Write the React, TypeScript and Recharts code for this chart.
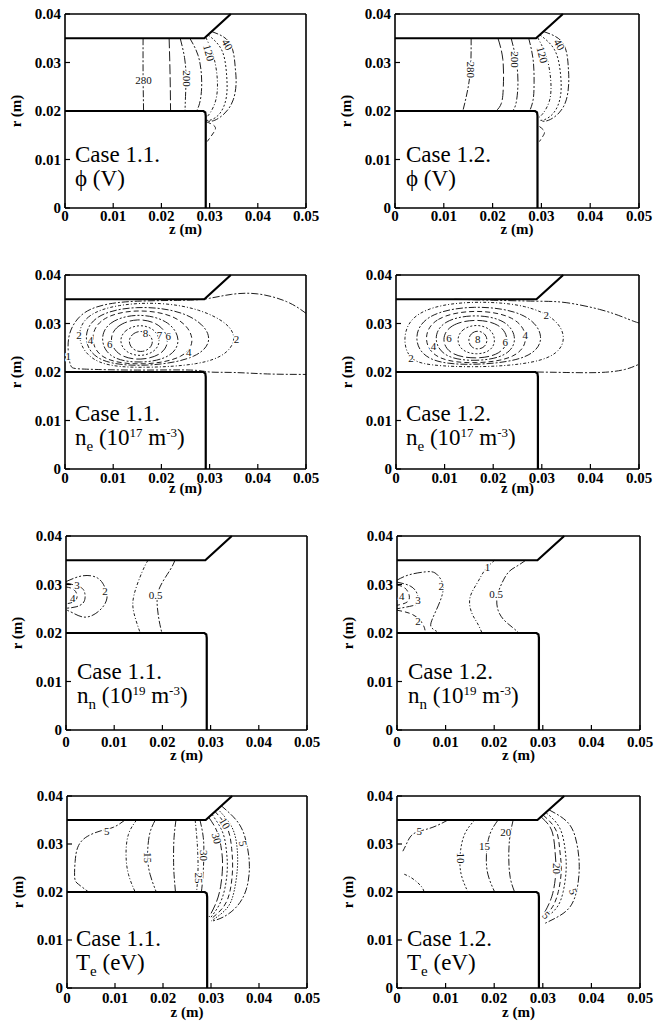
import React from "react";
import { ComposedChart, Line, Scatter, XAxis, YAxis } from "recharts";

type Pt = [number, number]; // [z (m), r (m)]

const SERIF = '"Liberation Serif", "DejaVu Serif", "Times New Roman", serif';

// ---- geometry of the electrodes ----
const WALL_TOP: Pt[] = [[0, 0.035], [0.0289, 0.035], [0.0344, 0.04]];
const ELECTRODE: Pt[] = [[0, 0.02], [0.0287, 0.02], [0.0291, 0.0197], [0.0292, 0.019], [0.0292, 0]];

const Z_TICKS = [0, 0.01, 0.02, 0.03, 0.04, 0.05];
const R_TICKS = [0, 0.01, 0.02, 0.03, 0.04];

// ---- phi, case 1.1 ----
const PHI11_280: Pt[] = [[0.0162, 0.035], [0.0162, 0.0275], [0.0163, 0.02]];
const PHI11_240: Pt[] = [[0.0216, 0.035], [0.0218, 0.0275], [0.0219, 0.02]];
const PHI11_200: Pt[] = [[0.0239, 0.035], [0.0248, 0.031], [0.0251, 0.027], [0.025, 0.023], [0.0249, 0.02]];
const PHI11_160: Pt[] = [[0.0259, 0.035], [0.0276, 0.0315], [0.0283, 0.0275], [0.0283, 0.024], [0.0279, 0.0215], [0.0273, 0.02]];
const PHI11_120: Pt[] = [[0.0292, 0.0352], [0.0308, 0.0313], [0.0316, 0.0265], [0.0313, 0.0223], [0.0301, 0.0196], [0.0292, 0.0186]];
const PHI11_80: Pt[] = [[0.0297, 0.0357], [0.0325, 0.0326], [0.0335, 0.0278], [0.0335, 0.023], [0.0322, 0.0196], [0.0304, 0.0182], [0.0293, 0.0181]];
const PHI11_40: Pt[] = [[0.0304, 0.0364], [0.0342, 0.034], [0.0353, 0.0292], [0.0355, 0.0258], [0.0349, 0.0223], [0.0332, 0.0196], [0.0311, 0.0181], [0.0297, 0.0179]];
const PHI11_SIDE: Pt[] = [[0.0293, 0.0178], [0.0311, 0.0168], [0.0308, 0.0155], [0.0295, 0.0137]];
const PHI11_TAGS = [
  { z: 0.0163, r: 0.0263, t: "280", rot: 0 },
  { z: 0.0254, r: 0.0267, t: "200", rot: 90 },
  { z: 0.0299, r: 0.032, t: "120", rot: 75 },
  { z: 0.0337, r: 0.0337, t: "40", rot: 60 },
];

// ---- phi, case 1.2 ----
const PHI12_280: Pt[] = [[0.0156, 0.035], [0.0155, 0.0292], [0.0149, 0.0244], [0.0139, 0.02]];
const PHI12_240: Pt[] = [[0.0211, 0.035], [0.0221, 0.0306], [0.0222, 0.0251], [0.0218, 0.0216], [0.0207, 0.02]];
const PHI12_200: Pt[] = [[0.0238, 0.035], [0.0248, 0.0306], [0.0252, 0.0258], [0.0248, 0.0216], [0.0241, 0.02]];
const PHI12_160: Pt[] = [[0.0274, 0.035], [0.0283, 0.0306], [0.0285, 0.0258], [0.0283, 0.0223], [0.0276, 0.02]];
const PHI12_120: Pt[] = [[0.0292, 0.0352], [0.031, 0.0313], [0.0319, 0.0265], [0.0317, 0.0223], [0.0304, 0.0196], [0.0294, 0.0186]];
const PHI12_80: Pt[] = [[0.0297, 0.0357], [0.0327, 0.0326], [0.0339, 0.0278], [0.0339, 0.023], [0.0325, 0.0196], [0.0306, 0.0182], [0.0296, 0.0181]];
const PHI12_40: Pt[] = [[0.0304, 0.0364], [0.0344, 0.034], [0.0355, 0.0292], [0.0356, 0.0258], [0.0351, 0.0223], [0.0336, 0.0196], [0.0315, 0.0181], [0.03, 0.0179]];
const PHI12_SIDE: Pt[] = [[0.0296, 0.0168], [0.0306, 0.0158], [0.0303, 0.0148], [0.0296, 0.0137]];
const PHI12_TAGS = [
  { z: 0.0155, r: 0.0285, t: "280", rot: 90 },
  { z: 0.0245, r: 0.0306, t: "200", rot: 90 },
  { z: 0.0302, r: 0.0316, t: "120", rot: 75 },
  { z: 0.0337, r: 0.0337, t: "40", rot: 60 },
];

// ---- n_e, case 1.1 ----
const NE11_1: Pt[] = [[0.05, 0.0321], [0.046, 0.0345], [0.04, 0.0361], [0.0345, 0.036], [0.03, 0.0352], [0.025, 0.0348], [0.015, 0.0346], [0.008, 0.0338], [0.0035, 0.0318], [0.001, 0.028], [0.0007, 0.024], [0.0012, 0.0213], [0.004, 0.0206], [0.015, 0.0204], [0.026, 0.0204], [0.03, 0.02], [0.035, 0.0199], [0.042, 0.0196], [0.05, 0.0195]];
const NE11_2: Pt[] = [[0.0022, 0.0268], [0.004, 0.0318], [0.011, 0.034], [0.02, 0.0344], [0.028, 0.033], [0.034, 0.03], [0.0356, 0.0268], [0.0335, 0.0235], [0.028, 0.0215], [0.017, 0.0208], [0.006, 0.0212]];
const NE11_3: Pt[] = [[0.0036, 0.0268], [0.0058, 0.0318], [0.0145, 0.0338], [0.0255, 0.0326], [0.0312, 0.0275], [0.028, 0.0228], [0.017, 0.021], [0.0065, 0.0218]];
const NE11_4: Pt[] = [[0.0051, 0.0267], [0.007, 0.0312], [0.0145, 0.0331], [0.0235, 0.0318], [0.0273, 0.027], [0.025, 0.0228], [0.0165, 0.0213], [0.0075, 0.0222]];
const NE11_5: Pt[] = [[0.0072, 0.0266], [0.0088, 0.0304], [0.0148, 0.0322], [0.0215, 0.0308], [0.0242, 0.0267], [0.0222, 0.023], [0.016, 0.0217], [0.0093, 0.0226]];
const NE11_6: Pt[] = [[0.0091, 0.0265], [0.0105, 0.0296], [0.015, 0.0312], [0.0198, 0.03], [0.0218, 0.0266], [0.0203, 0.0236], [0.0158, 0.0223], [0.011, 0.0232]];
const NE11_7: Pt[] = [[0.0112, 0.0264], [0.0123, 0.0287], [0.0155, 0.0299], [0.0186, 0.0289], [0.0199, 0.0265], [0.0188, 0.0242], [0.0157, 0.0231], [0.0125, 0.024]];
const NE11_8: Pt[] = [[0.0131, 0.0263], [0.0138, 0.0278], [0.0156, 0.0286], [0.0175, 0.0279], [0.0184, 0.0263], [0.0176, 0.0247], [0.0157, 0.024], [0.0139, 0.0247]];
const NE11_TAGS = [
  { z: 0.0029, r: 0.0276, t: "2", rot: 0 },
  { z: 0.0053, r: 0.0265, t: "4", rot: 0 },
  { z: 0.0093, r: 0.0257, t: "6", rot: 0 },
  { z: 0.0167, r: 0.028, t: "8", rot: 0 },
  { z: 0.0196, r: 0.0276, t: "7", rot: 0 },
  { z: 0.0214, r: 0.0274, t: "6", rot: 0 },
  { z: 0.0257, r: 0.0242, t: "4", rot: 0 },
  { z: 0.0356, r: 0.0268, t: "2", rot: 0 },
  { z: 0.0007, r: 0.0233, t: "1", rot: 0 },
];

// ---- n_e, case 1.2 ----
const NE12_1A: Pt[] = [[0.012, 0.035], [0.02, 0.0348], [0.029, 0.0346], [0.035, 0.0343], [0.0419, 0.0329], [0.0465, 0.0314], [0.0488, 0.0305], [0.05, 0.0301]];
const NE12_1B: Pt[] = [[0.029, 0.02], [0.035, 0.0199], [0.042, 0.0199], [0.047, 0.0205], [0.05, 0.0216]];
const NE12_2: Pt[] = [[0.0014, 0.027], [0.003, 0.0315], [0.009, 0.034], [0.018, 0.0346], [0.027, 0.0338], [0.033, 0.031], [0.035, 0.0272], [0.0335, 0.0238], [0.0285, 0.0218], [0.018, 0.0209], [0.006, 0.0213], [0.0025, 0.0228]];
const NE12_3: Pt[] = [[0.0034, 0.0269], [0.006, 0.032], [0.016, 0.0339], [0.027, 0.0324], [0.0309, 0.0272], [0.0278, 0.0226], [0.0165, 0.0213], [0.0062, 0.0219]];
const NE12_4: Pt[] = [[0.0055, 0.0268], [0.0077, 0.0313], [0.016, 0.033], [0.0248, 0.0316], [0.0275, 0.027], [0.025, 0.0228], [0.0165, 0.0216], [0.008, 0.0224]];
const NE12_5: Pt[] = [[0.0076, 0.0268], [0.0095, 0.0306], [0.016, 0.032], [0.0228, 0.0308], [0.0251, 0.0268], [0.023, 0.0232], [0.0165, 0.0221], [0.0098, 0.0229]];
const NE12_6: Pt[] = [[0.0093, 0.0267], [0.011, 0.0298], [0.0162, 0.031], [0.0215, 0.03], [0.0234, 0.0267], [0.0216, 0.0236], [0.0165, 0.0226], [0.011, 0.0235]];
const NE12_7: Pt[] = [[0.0124, 0.0266], [0.0135, 0.0289], [0.0165, 0.0299], [0.0195, 0.029], [0.0206, 0.0266], [0.0196, 0.0243], [0.0166, 0.0235], [0.0135, 0.0243]];
const NE12_8: Pt[] = [[0.0148, 0.0266], [0.0154, 0.028], [0.0168, 0.0286], [0.0183, 0.028], [0.0189, 0.0266], [0.0183, 0.0251], [0.0168, 0.0246], [0.0154, 0.0251]];
const NE12_TAGS = [
  { z: 0.0309, r: 0.0317, t: "2", rot: 0 },
  { z: 0.0266, r: 0.0276, t: "4", rot: 0 },
  { z: 0.0225, r: 0.0262, t: "6", rot: 0 },
  { z: 0.0168, r: 0.0268, t: "8", rot: 0 },
  { z: 0.0109, r: 0.0271, t: "6", rot: 0 },
  { z: 0.0077, r: 0.0254, t: "4", rot: 0 },
  { z: 0.0031, r: 0.0228, t: "2", rot: 0 },
];

// ---- n_n, case 1.1 ----
const NN11_4: Pt[] = [[0, 0.0295], [0.0017, 0.0289], [0.0023, 0.0274], [0.0015, 0.0264], [0, 0.026]];
const NN11_3: Pt[] = [[0, 0.0303], [0.0029, 0.0295], [0.0039, 0.0282], [0.0037, 0.0264], [0.0021, 0.0254], [0, 0.0251]];
const NN11_2: Pt[] = [[0, 0.0306], [0.0035, 0.0318], [0.0066, 0.0313], [0.0081, 0.0293], [0.0085, 0.0272], [0.0075, 0.0252], [0.0056, 0.0237], [0.0035, 0.0233], [0.0015, 0.0241], [0, 0.0248]];
const NN11_1: Pt[] = [[0.017, 0.035], [0.0158, 0.0326], [0.0141, 0.0278], [0.0141, 0.0241], [0.0154, 0.02]];
const NN11_05: Pt[] = [[0.0226, 0.035], [0.0216, 0.033], [0.0195, 0.0295], [0.0189, 0.0262], [0.0193, 0.0227], [0.0199, 0.02]];
const NN11_TAGS = [
  { z: 0.0023, r: 0.0299, t: "3", rot: 0 },
  { z: 0.0014, r: 0.0272, t: "4", rot: 0 },
  { z: 0.0081, r: 0.0287, t: "2", rot: 0 },
  { z: 0.0186, r: 0.0278, t: "0.5", rot: 0 },
];

// ---- n_n, case 1.2 ----
const NN12_4: Pt[] = [[0, 0.0299], [0.0016, 0.0293], [0.0025, 0.0278], [0.0021, 0.0264], [0.0004, 0.0258], [0, 0.0257]];
const NN12_3: Pt[] = [[0, 0.0305], [0.0027, 0.0297], [0.0041, 0.0282], [0.0043, 0.0264], [0.0031, 0.0256], [0, 0.025]];
const NN12_2A: Pt[] = [[0, 0.0309], [0.0025, 0.032], [0.0058, 0.0326], [0.0078, 0.0324], [0.0091, 0.0309], [0.0095, 0.0289], [0.0088, 0.0264], [0.0078, 0.0241], [0.007, 0.0221], [0.0072, 0.021], [0.0086, 0.0201]];
const NN12_2B: Pt[] = [[0, 0.0247], [0.0025, 0.0241], [0.0045, 0.0229], [0.0056, 0.0212], [0.0058, 0.02]];
const NN12_1: Pt[] = [[0.0201, 0.035], [0.0181, 0.033], [0.0165, 0.0303], [0.015, 0.0272], [0.0154, 0.0241], [0.0165, 0.0221], [0.0175, 0.02]];
const NN12_05: Pt[] = [[0.0265, 0.035], [0.0247, 0.0338], [0.023, 0.0326], [0.0216, 0.0303], [0.0206, 0.0274], [0.0208, 0.0247], [0.022, 0.0227], [0.0237, 0.0212], [0.0251, 0.02]];
const NN12_TAGS = [
  { z: 0.001, r: 0.0276, t: "4", rot: 0 },
  { z: 0.0043, r: 0.0268, t: "3", rot: 0 },
  { z: 0.0091, r: 0.0297, t: "2", rot: 0 },
  { z: 0.0043, r: 0.0225, t: "2", rot: 0 },
  { z: 0.0186, r: 0.0336, t: "1", rot: 0 },
  { z: 0.0204, r: 0.028, t: "0.5", rot: 0 },
];

// ---- T_e, case 1.1 ----
const TE11_5L: Pt[] = [[0.0121, 0.035], [0.0097, 0.0335], [0.0069, 0.0327], [0.0038, 0.0313], [0.0022, 0.0292], [0.0017, 0.0264], [0.0016, 0.023], [0.0024, 0.0216], [0.0045, 0.02]];
const TE11_10L: Pt[] = [[0.0145, 0.035], [0.0128, 0.032], [0.0123, 0.0278], [0.0128, 0.0237], [0.0142, 0.02]];
const TE11_15L: Pt[] = [[0.0184, 0.035], [0.0172, 0.032], [0.0168, 0.0275], [0.0173, 0.0237], [0.0186, 0.02]];
const TE11_20L: Pt[] = [[0.0227, 0.035], [0.0223, 0.0313], [0.0222, 0.0271], [0.0223, 0.0237], [0.0226, 0.02]];
const TE11_25L: Pt[] = [[0.0267, 0.035], [0.0271, 0.0306], [0.0273, 0.025], [0.027, 0.02]];
const TE11_30L: Pt[] = [[0.0277, 0.035], [0.0284, 0.0313], [0.0285, 0.0271], [0.0283, 0.023], [0.028, 0.02]];
const TE11_30R: Pt[] = [[0.0295, 0.0356], [0.0313, 0.0325], [0.0322, 0.0287], [0.0324, 0.0253], [0.032, 0.0211], [0.031, 0.0176], [0.0296, 0.0148]];
const TE11_20R: Pt[] = [[0.0302, 0.0362], [0.0324, 0.0325], [0.0332, 0.0287], [0.0334, 0.025], [0.0329, 0.0208], [0.0317, 0.0173], [0.0298, 0.0145]];
const TE11_15R: Pt[] = [[0.0308, 0.0368], [0.0334, 0.0333], [0.0343, 0.0291], [0.0345, 0.025], [0.034, 0.0204], [0.0326, 0.0169], [0.0299, 0.0143]];
const TE11_10R: Pt[] = [[0.0314, 0.0373], [0.0343, 0.0336], [0.0354, 0.0295], [0.0355, 0.025], [0.0348, 0.0201], [0.0333, 0.0166], [0.0301, 0.014]];
const TE11_5R: Pt[] = [[0.0321, 0.038], [0.0357, 0.0344], [0.0374, 0.0302], [0.038, 0.0253], [0.0373, 0.0204], [0.0353, 0.0169], [0.0326, 0.0148], [0.0301, 0.0139]];
const TE11_TAGS = [
  { z: 0.0083, r: 0.0328, t: "5", rot: 0 },
  { z: 0.0169, r: 0.0272, t: "15", rot: 90 },
  { z: 0.0285, r: 0.0276, t: "30", rot: 90 },
  { z: 0.0275, r: 0.0229, t: "25", rot: 90 },
  { z: 0.0312, r: 0.0312, t: "30", rot: 75 },
  { z: 0.0329, r: 0.0343, t: "10", rot: 60 },
  { z: 0.0367, r: 0.0301, t: "5", rot: 80 },
];

// ---- T_e, case 1.2 ----
const TE12_5A: Pt[] = [[0.0105, 0.035], [0.0074, 0.0335], [0.0047, 0.0327], [0.0029, 0.0317], [0.0019, 0.0299], [0.0012, 0.0285]];
const TE12_5B: Pt[] = [[0.0015, 0.0237], [0.0029, 0.023], [0.0043, 0.0219], [0.0052, 0.0209], [0.0056, 0.02]];
const TE12_10: Pt[] = [[0.016, 0.035], [0.0139, 0.032], [0.013, 0.0278], [0.0132, 0.0237], [0.0146, 0.02]];
const TE12_15: Pt[] = [[0.0208, 0.035], [0.0191, 0.032], [0.0184, 0.0278], [0.0187, 0.0237], [0.0201, 0.02]];
const TE12_20: Pt[] = [[0.0239, 0.035], [0.0232, 0.0313], [0.023, 0.0271], [0.0233, 0.023], [0.0242, 0.02]];
const TE12_20R: Pt[] = [[0.0297, 0.0356], [0.0318, 0.0329], [0.0325, 0.0287], [0.0327, 0.0246], [0.0322, 0.0204], [0.0313, 0.0176], [0.0301, 0.0152]];
const TE12_15R: Pt[] = [[0.0301, 0.036], [0.0327, 0.0329], [0.0335, 0.0287], [0.0338, 0.0246], [0.0332, 0.0201], [0.032, 0.0169], [0.0303, 0.0149]];
const TE12_10R: Pt[] = [[0.0307, 0.0365], [0.0335, 0.0333], [0.0346, 0.0287], [0.0348, 0.0246], [0.0342, 0.0201], [0.0329, 0.0168], [0.0305, 0.0145]];
const TE12_5R: Pt[] = [[0.0313, 0.0371], [0.0353, 0.0343], [0.037, 0.0301], [0.0375, 0.0253], [0.037, 0.0204], [0.0356, 0.0169], [0.0332, 0.0149], [0.0305, 0.0135]];
const TE12_TAGS = [
  { z: 0.0046, r: 0.0327, t: "5", rot: 0 },
  { z: 0.0132, r: 0.0271, t: "10", rot: 90 },
  { z: 0.018, r: 0.0296, t: "15", rot: 0 },
  { z: 0.0224, r: 0.0326, t: "20", rot: 0 },
  { z: 0.0329, r: 0.0249, t: "20", rot: 90 },
  { z: 0.0363, r: 0.0201, t: "5", rot: 70 },
  { z: 0.0307, r: 0.0152, t: "5", rot: 45 },
];

// ---- styling / layout ----
const D1 = "7 2 2 2";
const D2 = "5 3";
const D3 = "2 2";
const D4 = "8 2 2 2 2 2";
const D5 = "10 3";
const D6 = "3 2 1 2";
const D7 = "1.5 1.5";

interface Contour { pts: Pt[]; dash: string; closed?: boolean }
interface Tag { z: number; r: number; t: string; rot: number }
interface PanelCfg {
  key: string; x: number; y: number; w: number; h: number;
  caseText: string; qty: "phi" | "ne" | "nn" | "te";
  capX: number; capY: number; tickGap: number; titleGap: number;
  contours: Contour[]; tags: Tag[];
}

const rows = (p: Pt[]) => p.map(([z, r]) => ({ z, r }));

const PANELS: PanelCfg[] = [
  {
    key: "p1", x: 65, y: 14, w: 241, h: 194, caseText: "Case 1.1.", qty: "phi",
    capX: 75, capY: 162, tickGap: 8, titleGap: 26,
    contours: [
      { pts: PHI11_280, dash: D1 }, { pts: PHI11_240, dash: D5 }, { pts: PHI11_200, dash: D4 },
      { pts: PHI11_160, dash: D1 }, { pts: PHI11_120, dash: D6 }, { pts: PHI11_80, dash: D3 },
      { pts: PHI11_40, dash: D1 }, { pts: PHI11_SIDE, dash: D2 },
    ],
    tags: PHI11_TAGS,
  },
  {
    key: "p2", x: 395, y: 14, w: 244, h: 194, caseText: "Case 1.2.", qty: "phi",
    capX: 406, capY: 162, tickGap: 8, titleGap: 26,
    contours: [
      { pts: PHI12_280, dash: D1 }, { pts: PHI12_240, dash: D5 }, { pts: PHI12_200, dash: D4 },
      { pts: PHI12_160, dash: D1 }, { pts: PHI12_120, dash: D6 }, { pts: PHI12_80, dash: D3 },
      { pts: PHI12_40, dash: D1 }, { pts: PHI12_SIDE, dash: D2 },
    ],
    tags: PHI12_TAGS,
  },
  {
    key: "p3", x: 65, y: 275, w: 241, h: 194, caseText: "Case 1.1.", qty: "ne",
    capX: 75, capY: 421, tickGap: 8.5, titleGap: 24,
    contours: [
      { pts: NE11_1, dash: D1 }, { pts: NE11_2, dash: D6, closed: true }, { pts: NE11_3, dash: D1, closed: true },
      { pts: NE11_4, dash: D2, closed: true }, { pts: NE11_5, dash: D4, closed: true }, { pts: NE11_6, dash: D5, closed: true },
      { pts: NE11_7, dash: D3, closed: true }, { pts: NE11_8, dash: D1, closed: true },
    ],
    tags: NE11_TAGS,
  },
  {
    key: "p4", x: 396, y: 275, w: 243, h: 194, caseText: "Case 1.2.", qty: "ne",
    capX: 406, capY: 421, tickGap: 8.5, titleGap: 24,
    contours: [
      { pts: NE12_1A, dash: D4 }, { pts: NE12_1B, dash: D1 }, { pts: NE12_2, dash: D6, closed: true },
      { pts: NE12_3, dash: D1, closed: true }, { pts: NE12_4, dash: D2, closed: true }, { pts: NE12_5, dash: D4, closed: true },
      { pts: NE12_6, dash: D5, closed: true }, { pts: NE12_7, dash: D3, closed: true }, { pts: NE12_8, dash: D1, closed: true },
    ],
    tags: NE12_TAGS,
  },
  {
    key: "p5", x: 66, y: 536, w: 241, h: 194, caseText: "Case 1.1.", qty: "nn",
    capX: 77, capY: 679, tickGap: 12, titleGap: 30,
    contours: [
      { pts: NN11_4, dash: D2 }, { pts: NN11_3, dash: D1 }, { pts: NN11_2, dash: D4 },
      { pts: NN11_1, dash: D6 }, { pts: NN11_05, dash: D1 },
    ],
    tags: NN11_TAGS,
  },
  {
    key: "p6", x: 397, y: 536, w: 243, h: 194, caseText: "Case 1.2.", qty: "nn",
    capX: 408, capY: 679, tickGap: 12, titleGap: 30,
    contours: [
      { pts: NN12_4, dash: D2 }, { pts: NN12_3, dash: D1 }, { pts: NN12_2A, dash: D4 },
      { pts: NN12_2B, dash: D2 }, { pts: NN12_1, dash: D6 }, { pts: NN12_05, dash: D1 },
    ],
    tags: NN12_TAGS,
  },
  {
    key: "p7", x: 67, y: 796, w: 240, h: 192, caseText: "Case 1.1.", qty: "te",
    capX: 76, capY: 946, tickGap: 10, titleGap: 29,
    contours: [
      { pts: TE11_5L, dash: D1 }, { pts: TE11_10L, dash: D6 }, { pts: TE11_15L, dash: D4 },
      { pts: TE11_20L, dash: D1 }, { pts: TE11_25L, dash: D6 }, { pts: TE11_30L, dash: D1 },
      { pts: TE11_30R, dash: D5 }, { pts: TE11_20R, dash: D3 }, { pts: TE11_15R, dash: D2 },
      { pts: TE11_10R, dash: D7 }, { pts: TE11_5R, dash: D1 },
    ],
    tags: TE11_TAGS,
  },
  {
    key: "p8", x: 397, y: 796, w: 243, h: 192, caseText: "Case 1.2.", qty: "te",
    capX: 407, capY: 946, tickGap: 10, titleGap: 29,
    contours: [
      { pts: TE12_5A, dash: D1 }, { pts: TE12_5B, dash: D6 }, { pts: TE12_10, dash: D3 },
      { pts: TE12_15, dash: D4 }, { pts: TE12_20, dash: D1 },
      { pts: TE12_20R, dash: D5 }, { pts: TE12_15R, dash: D2 }, { pts: TE12_10R, dash: D3 },
      { pts: TE12_5R, dash: D1 },
    ],
    tags: TE12_TAGS,
  },
];

const fmtTick = (v: number) => (v === 0 ? "0" : v.toFixed(2));
const tickStyle = { fill: "#000", fontSize: 15, fontWeight: 700, fontFamily: SERIF };

const TagShape = (props: any) => {
  const { cx, cy, payload } = props;
  if (cx == null || cy == null) return null;
  return (
    <text
      x={cx}
      y={cy}
      transform={payload.rot ? `rotate(${payload.rot} ${cx} ${cy})` : undefined}
      textAnchor="middle"
      dominantBaseline="central"
      fontFamily={SERIF}
      fontSize={11}
      fill="#111"
      stroke="#fff"
      strokeWidth={2.5}
      paintOrder="stroke"
    >
      {payload.t}
    </text>
  );
};

function Panel({ p }: { p: PanelCfg }) {
  const colX = p.x < 333 ? 0 : 333;
  const yAxisW = p.x - colX;
  const top = 10;
  const bottomH = 40;
  const right = 333 - yAxisW - p.w - 1;
  return (
    <div style={{ position: "absolute", left: colX, top: p.y - top }}>
      <ComposedChart
        width={333}
        height={top + p.h + bottomH}
        margin={{ top: top - 1, right, bottom: 0, left: 0 }}
      >
        <XAxis
          xAxisId="b"
          dataKey="z"
          type="number"
          domain={[0, 0.05]}
          ticks={Z_TICKS}
          interval={0}
          tickFormatter={fmtTick}
          tick={tickStyle}
          tickSize={-5}
          tickMargin={p.tickGap - 0.6}
          height={bottomH}
          axisLine={{ stroke: "#000", strokeWidth: 1.6 }}
          tickLine={{ stroke: "#000", strokeWidth: 1.2 }}
        />
        <XAxis
          xAxisId="t"
          orientation="top"
          dataKey="z"
          type="number"
          domain={[0, 0.05]}
          ticks={Z_TICKS}
          interval={0}
          tick={false}
          tickSize={-5}
          height={1}
          axisLine={{ stroke: "#000", strokeWidth: 1.6 }}
          tickLine={{ stroke: "#000", strokeWidth: 1.2 }}
        />
        <YAxis
          yAxisId="l"
          dataKey="r"
          type="number"
          domain={[0, 0.04]}
          ticks={R_TICKS}
          interval={0}
          tickFormatter={fmtTick}
          tick={tickStyle}
          tickSize={-5}
          tickMargin={9}
          width={yAxisW}
          axisLine={{ stroke: "#000", strokeWidth: 1.6 }}
          tickLine={{ stroke: "#000", strokeWidth: 1.2 }}
        />
        <YAxis
          yAxisId="rr"
          orientation="right"
          dataKey="r"
          type="number"
          domain={[0, 0.04]}
          ticks={R_TICKS}
          interval={0}
          tick={false}
          tickSize={-5}
          width={1}
          axisLine={{ stroke: "#000", strokeWidth: 1.6 }}
          tickLine={{ stroke: "#000", strokeWidth: 1.2 }}
        />
        {p.contours.map((c, i) => (
          <Line
            key={i}
            xAxisId="b"
            yAxisId="l"
            data={rows(c.pts)}
            dataKey="r"
            type={c.closed ? "basisClosed" : "natural"}
            stroke="#1e1e1e"
            strokeWidth={1}
            strokeDasharray={c.dash}
            dot={false}
            activeDot={false}
            isAnimationActive={false}
          />
        ))}
        <Line
          xAxisId="t"
          yAxisId="rr"
          data={rows(WALL_TOP)}
          dataKey="r"
          type="linear"
          stroke="#000"
          strokeWidth={2.2}
          dot={false}
          activeDot={false}
          isAnimationActive={false}
        />
        <Line
          xAxisId="t"
          yAxisId="rr"
          data={rows(ELECTRODE)}
          dataKey="r"
          type="linear"
          stroke="#000"
          strokeWidth={2.2}
          dot={false}
          activeDot={false}
          isAnimationActive={false}
        />
        <Scatter
          xAxisId="b"
          yAxisId="l"
          data={p.tags}
          shape={TagShape}
          isAnimationActive={false}
        />
      </ComposedChart>
    </div>
  );
}

function Quantity({ qty, x, y }: { qty: PanelCfg["qty"]; x: number; y: number }) {
  const common = { x, y, fontFamily: SERIF, fontSize: 23, fill: "#000" };
  if (qty === "phi") return <text {...common}>ϕ (V)</text>;
  if (qty === "te")
    return (
      <text {...common}>
        T<tspan dy={6} fontSize={15}>e</tspan>
        <tspan dy={-6}> (eV)</tspan>
      </text>
    );
  const sub = qty === "ne" ? "e" : "n";
  const pow = qty === "ne" ? "17" : "19";
  return (
    <text {...common}>
      n<tspan dy={6} fontSize={15}>{sub}</tspan>
      <tspan dy={-6}> (10</tspan>
      <tspan dy={-8} fontSize={13}>{pow}</tspan>
      <tspan dy={8}> m</tspan>
      <tspan dy={-8} fontSize={13}>-3</tspan>
      <tspan dy={8}>)</tspan>
    </text>
  );
}

export default function App() {
  return (
    <div style={{ position: "absolute", left: 0, top: 0, width: 666, height: 1024, background: "#fff", overflow: "hidden" }}>
      {PANELS.map((p) => (
        <Panel key={p.key} p={p} />
      ))}
      <svg width={666} height={1024} style={{ position: "absolute", left: 0, top: 0, pointerEvents: "none" }}>
        {PANELS.map((p) => (
          <g key={p.key}>
            <text x={p.capX} y={p.capY} fontFamily={SERIF} fontSize={23} fill="#000">
              {p.caseText}
            </text>
            <Quantity qty={p.qty} x={p.capX} y={p.capY + 24} />
            <text
              x={p.x + p.w / 2}
              y={p.y + p.h + p.titleGap}
              textAnchor="middle"
              fontFamily={SERIF}
              fontSize={15}
              fontWeight={700}
              fill="#000"
            >
              z (m)
            </text>
            <text
              x={p.x - 44}
              y={p.y + p.h / 2}
              transform={`rotate(-90 ${p.x - 44} ${p.y + p.h / 2})`}
              textAnchor="middle"
              fontFamily={SERIF}
              fontSize={15}
              fontWeight={700}
              fill="#000"
            >
              r (m)
            </text>
          </g>
        ))}
      </svg>
    </div>
  );
}
